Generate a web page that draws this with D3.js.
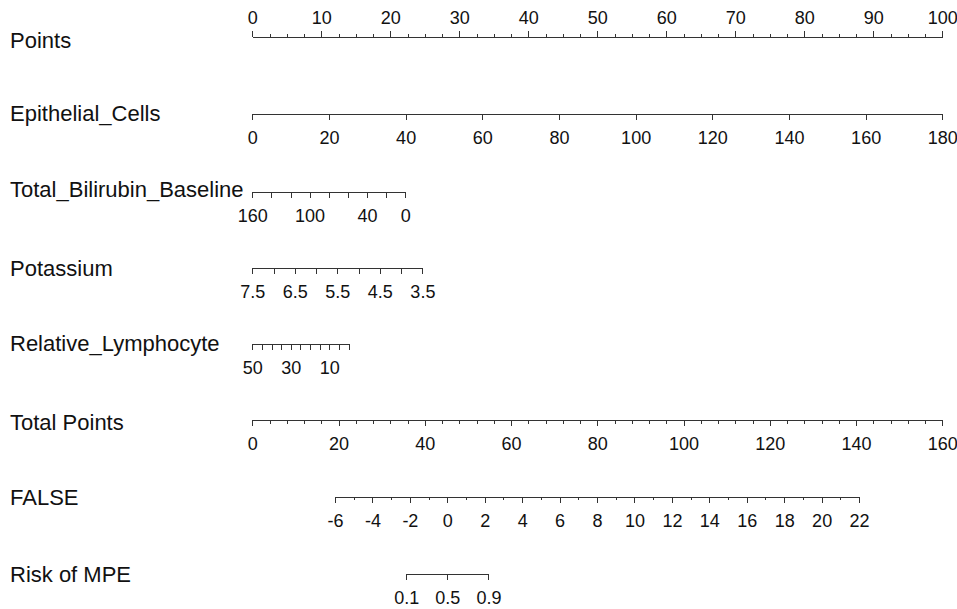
<!DOCTYPE html>
<html>
<head>
<meta charset="utf-8">
<script src="https://d3js.org/d3.v7.min.js"></script>
<style>
  body { margin: 0; background: #fff; }
  svg { display: block; font-family: "Liberation Sans", Arial, sans-serif; }
  .axis path, .axis line { stroke: #333; stroke-width: 1; shape-rendering: crispEdges; }
  .axis text { fill: #111; font-size: 18px; font-family: "Liberation Sans", Arial, sans-serif; }
  .var-label { fill: #111; font-size: 22px; }
</style>
</head>
<body>
<div id="chart"></div>
<script>
// nomogram data
const pointsMajor = [0, 10, 20, 30, 40, 50, 60, 70, 80, 90, 100];
const pointsMinor = [2.5, 5, 7.5, 12.5, 15, 17.5, 22.5, 25, 27.5, 32.5, 35, 37.5, 42.5, 45, 47.5,
  52.5, 55, 57.5, 62.5, 65, 67.5, 72.5, 75, 77.5, 82.5, 85, 87.5, 92.5, 95, 97.5];

const epithelialTicks = [0, 20, 40, 60, 80, 100, 120, 140, 160, 180];
const epithelialRange = [0, 180];          // variable values at ends
const epithelialPoints = [0, 100];         // points at those ends

const bilirubinTicks = [160, 140, 120, 100, 80, 60, 40, 20, 0];
const bilirubinLabels = [160, 100, 40, 0];
const bilirubinRange = [160, 0];
const bilirubinPoints = [0, 22.15];

const potassiumTicks = [7.5, 7, 6.5, 6, 5.5, 5, 4.5, 4, 3.5];
const potassiumLabels = [7.5, 6.5, 5.5, 4.5, 3.5];
const potassiumRange = [7.5, 3.5];
const potassiumPoints = [0, 24.65];

const lymphTicks = [50, 45, 40, 35, 30, 25, 20, 15, 10, 5, 0];
const lymphLabels = [50, 30, 10];
const lymphRange = [50, 0];
const lymphPoints = [0, 13.95];

const totalMajor = [0, 20, 40, 60, 80, 100, 120, 140, 160];
const totalMinor = [4, 8, 12, 16, 24, 28, 32, 36, 44, 48, 52, 56, 64, 68, 72, 76, 84, 88, 92, 96,
  104, 108, 112, 116, 124, 128, 132, 136, 144, 148, 152, 156];

const lpMajor = [-6, -4, -2, 0, 2, 4, 6, 8, 10, 12, 14, 16, 18, 20, 22];
const lpMinor = [-5, -3, -1, 1, 3, 5, 7, 9, 11, 13, 15, 17, 19, 21];
const lpRange = [-6, 22];
const lpTotalPoints = [19.18, 140.7];      // total points at lp ends

const riskTicks = [0.1, 0.5, 0.9];

// layout
const W = 957, H = 609;
const x0 = 252.3, x1 = 942.3;
const labelX = 10;

const svg = d3.select("#chart").append("svg")
  .attr("width", W).attr("height", H);

const pointsX = d3.scaleLinear().domain([0, 100]).range([x0, x1]);
const totalX = d3.scaleLinear().domain([0, 160]).range([x0, x1]);

function varScale(range, pts) {
  return d3.scaleLinear().domain(range).range(pts.map(p => pointsX(p)));
}

const lpX = d3.scaleLinear().domain(lpRange).range(lpTotalPoints.map(t => totalX(t)));
const logit = p => Math.log(p / (1 - p));

function drawAxis(y, scale, major, labels, minor, opts) {
  const up = opts && opts.up;
  const g = svg.append("g").attr("class", "axis").attr("transform", `translate(0,${y})`);
  const fmt = d => (labels.includes(d) ? (opts && opts.fmt ? opts.fmt(d) : String(d)) : "");
  const ax = (up ? d3.axisTop(scale) : d3.axisBottom(scale))
    .tickValues(major).tickFormat(fmt)
    .tickSize(6).tickSizeOuter(0).tickPadding(up ? 7 : 11.5);
  g.call(ax);
  if (minor && minor.length) {
    const mg = svg.append("g").attr("class", "axis").attr("transform", `translate(0,${y})`);
    mg.call((up ? d3.axisTop(scale) : d3.axisBottom(scale))
      .tickValues(minor).tickFormat("").tickSize(3.5).tickSizeOuter(0));
    mg.select(".domain").remove();
  }
  return g;
}

function label(text, y) {
  svg.append("text").attr("class", "var-label")
    .attr("x", labelX).attr("y", y).text(text);
}

// Points
drawAxis(37, pointsX, pointsMajor, pointsMajor, pointsMinor, { up: true });
label("Points", 47.5);

// Epithelial_Cells
drawAxis(114, varScale(epithelialRange, epithelialPoints), epithelialTicks, epithelialTicks, []);
label("Epithelial_Cells", 120.5);

// Total_Bilirubin_Baseline
drawAxis(191.5, varScale(bilirubinRange, bilirubinPoints), bilirubinTicks, bilirubinLabels, []);
label("Total_Bilirubin_Baseline", 197);

// Potassium
drawAxis(268, varScale(potassiumRange, potassiumPoints), potassiumTicks, potassiumLabels, [],
  { fmt: d => d3.format(".1f")(d) });
label("Potassium", 276);

// Relative_Lymphocyte
drawAxis(343.5, varScale(lymphRange, lymphPoints), lymphTicks, lymphLabels, []);
label("Relative_Lymphocyte", 351);

// Total Points
drawAxis(420, totalX, totalMajor, totalMajor, totalMinor);
label("Total Points", 429.5);

// linear predictor
drawAxis(496.5, lpX, lpMajor, lpMajor, lpMinor);
label("FALSE", 505);

// Risk of MPE, placed on the linear predictor through the logit
const riskG = svg.append("g").attr("class", "axis").attr("transform", "translate(0,573.5)");
const riskScale = d3.scaleLinear()
  .domain(riskTicks.map(logit))
  .range(riskTicks.map(p => lpX(logit(p))));
riskG.call(d3.axisBottom(riskScale)
  .tickValues(riskTicks.map(logit))
  .tickFormat((d, i) => String(riskTicks[i]))
  .tickSize(6).tickSizeOuter(0).tickPadding(11.5));
label("Risk of MPE", 582);
</script>
</body>
</html>
